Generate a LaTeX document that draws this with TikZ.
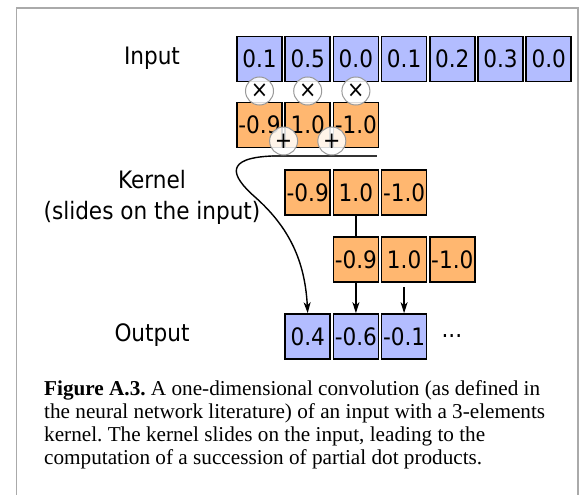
\documentclass[tikz,border=0pt]{standalone}
\usepackage{fontspec}
\setmainfont{Liberation Serif}
\newfontfamily\dejac{DejaVu Sans Condensed}
\usetikzlibrary{arrows.meta}
\definecolor{inblue}{RGB}{179,189,255}
\definecolor{kerorange}{RGB}{255,183,112}
\definecolor{framegray}{RGB}{170,170,170}
\frenchspacing
\begin{document}
\begin{tikzpicture}[x=1pt,y=-1pt,
  cell/.style={draw=black, line width=1.6pt, minimum width=45pt, minimum height=45pt, inner sep=0pt, font=\dejac\fontsize{24}{28}\selectfont, text=black},
  inp/.style={cell, fill=inblue},
  ker/.style={cell, fill=kerorange},
  lab/.style={font=\dejac\fontsize{24}{28}\selectfont, align=center, inner sep=0pt},
  op/.style={circle, draw=gray!80, line width=1pt, fill=white, fill opacity=0.85, text opacity=1, minimum size=28pt, inner sep=0pt, font=\dejac\fontsize{23}{24}\selectfont},
  captxt/.style={anchor=base west, font=\fontsize{21.2}{23}\selectfont, inner sep=0pt},
  arr/.style={-{Stealth[length=11pt,width=7pt,inset=3pt]}, line width=1.4pt}
]
\useasboundingbox (0,0) rectangle (584,495);
\draw[framegray, line width=1.5pt] (16.5,496) -- (16.5,8) -- (578,8) -- (578,496);

% labels
\node[lab] (linput) at (152,58) {Input};
\node[lab] (lkernel) at (152,180) {Kernel};
\node[lab] (lslides) at (152,213) {(slides on the input)};
\node[lab] (loutput) at (152,335) {Output};

% input row
\foreach \v [count=\k] in {0.1,0.5,0.0,0.1,0.2,0.3,0.0}
  \node[inp] (i\k) at ({259.5+48.2*(\k-1)},59) {\v};

% kernel rows
\foreach \v [count=\k] in {-0.9,1.0,-1.0}{
  \node[ker] (ka\k) at ({259.5+48.2*(\k-1)},125) {\v};
}
\foreach \v [count=\k] in {-0.9,1.0,-1.0}{
  \node[ker] (kb\k) at ({307.7+48.2*(\k-1)},192.5) {\v};
}
\foreach \v [count=\k] in {-0.9,1.0,-1.0}{
  \node[ker] (kc\k) at ({355.9+48.2*(\k-1)},259.5) {\v};
}

% output row
\foreach \v [count=\k] in {0.4,-0.6,-0.1}
  \node[inp] (o\k) at ({307.7+48.2*(\k-1)},336.5) {\v};
\node[lab, anchor=west] (dots) at ([xshift=14pt]o3.east) {...};

% multiply circles
\foreach \k in {1,2,3}
  \node[op] (m\k) at ([yshift=-32pt]i\k.center) {×};

% sum line
\coordinate (ls) at (272,156);
\coordinate (le) at (377,156);
\draw[line width=1.2pt, black!80] (ls) -- (le);

% plus circles
\node[op] (p1) at (283.6,141) {+};
\node[op] (p2) at (331.8,141) {+};

% connectors
\draw[arr] (ls) .. controls (225,158) and (230,175) .. (255,197)
  .. controls (290,228) and (305,262) .. (o1.north);
\draw[line width=1.4pt] (kb2.south) -- (kc1.north);
\draw[arr] (kc1.south) -- (o2.north);
\draw[arr] ([yshift=-4pt]kc2.south) -- (o3.north);

% caption
\node[captxt] (c1) at (44,395) {\textbf{Figure A.3.} A one-dimensional convolution (as defined in};
\node[captxt] (c2) at (44,418) {the neural network literature) of an input with a 3-elements};
\node[captxt] (c3) at (44,441) {kernel. The kernel slides on the input, leading to the};
\node[captxt] (c4) at (44,464) {computation of a succession of partial dot products.};
\end{tikzpicture}
\end{document}
